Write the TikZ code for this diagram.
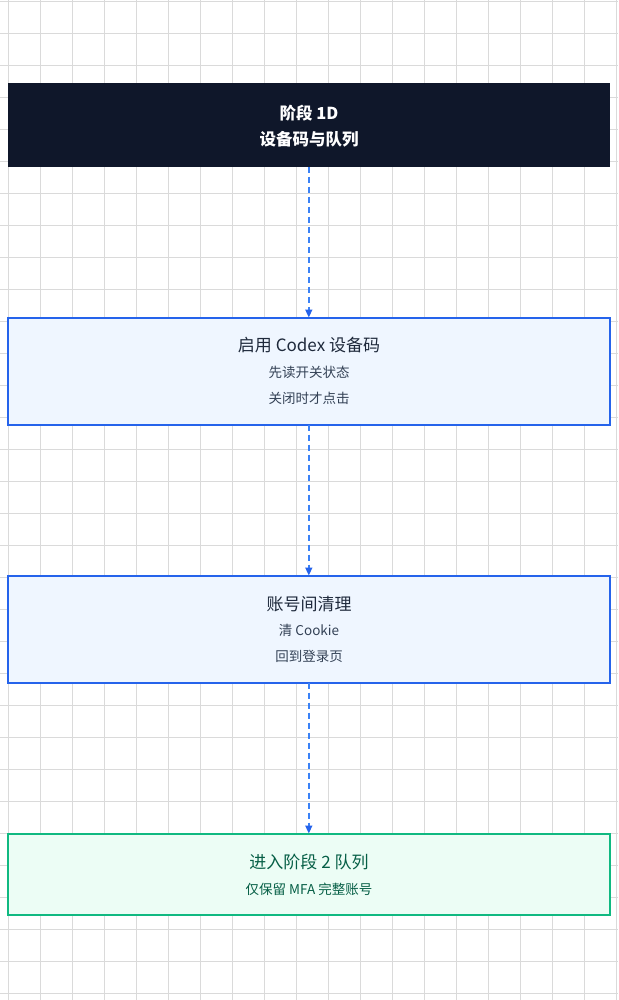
\documentclass[tikz,border=0pt]{standalone}
\usepackage{fontspec}
\setmainfont{Noto Sans CJK SC}
\usetikzlibrary{arrows.meta}
\definecolor{gridc}{HTML}{DADADA}
\definecolor{darkfill}{HTML}{0F172A}
\definecolor{bluestroke}{HTML}{2563EB}
\definecolor{bluefill}{HTML}{EFF6FF}
\definecolor{greenstroke}{HTML}{10B981}
\definecolor{greenfill}{HTML}{ECFDF5}
\definecolor{titletext}{HTML}{1E293B}
\definecolor{subtext}{HTML}{334155}
\definecolor{greentext}{HTML}{065F46}
\definecolor{arrowc}{HTML}{3B82F6}
\tikzset{
  gridline/.style={draw=gridc, line width=0.75pt},
  boxbase/.style={rectangle, minimum width=602pt, inner sep=0pt, outer sep=0pt},
  darkbox/.style={boxbase, fill=darkfill, minimum height=84pt},
  bluebox/.style={boxbase, draw=bluestroke, fill=bluefill, line width=2pt, minimum height=107pt},
  greenbox/.style={boxbase, draw=greenstroke, fill=greenfill, line width=2pt, minimum height=81pt},
  titlelbl/.style={inner sep=0pt, font=\fontsize{17}{20}\selectfont, text=titletext},
  sublbl/.style={inner sep=0pt, font=\fontsize{13.5}{16}\selectfont, text=subtext},
  darklbl/.style={inner sep=0pt, font=\fontsize{16.5}{20}\selectfont\bfseries, text=white},
  flow/.style={draw=arrowc, line width=1.5pt, dash pattern=on 6pt off 4pt,
    -{Triangle[length=8pt,width=7pt,color=bluestroke]}},
}
\begin{document}
\begin{tikzpicture}[x=1pt,y=-1pt]
\useasboundingbox (0,0) rectangle (618,1000);
\fill[white] (0,0) rectangle (618,1000);
\foreach \i in {0,...,19} \draw[gridline] ({8.3+32*\i},0) -- ({8.3+32*\i},1000);
\foreach \j in {0,...,31} \draw[gridline] (0,{1.7+32*\j}) -- (618,{1.7+32*\j});

\node[darkbox] (b1) at (308.8,125) {};
\node[bluebox] (b2) at (308.8,371) {};
\node[bluebox] (b3) at (308.8,629) {};
\node[greenbox] (b4) at (308.8,874) {};

\node[darklbl] (t1a) at (309,113) {阶段 1D};
\node[darklbl] (t1b) at (309,139) {设备码与队列};

\node[titlelbl] (t2a) at (309,345) {启用 Codex 设备码};
\node[sublbl] (t2b) at (309,372) {先读开关状态};
\node[sublbl] (t2c) at (309,398) {关闭时才点击};

\node[titlelbl] (t3a) at (309,604) {账号间清理};
\node[sublbl] (t3b) at (309,630) {清 Cookie};
\node[sublbl] (t3c) at (309,656.5) {回到登录页};

\node[titlelbl, text=greentext] (t4a) at (309,862) {进入阶段 2 队列};
\node[sublbl, text=greentext] (t4b) at (309,889) {仅保留 MFA 完整账号};

\draw[flow] (b1.south) -- (b2.north);
\draw[flow] (b2.south) -- (b3.north);
\draw[flow] (b3.south) -- (b4.north);
\end{tikzpicture}
\end{document}
